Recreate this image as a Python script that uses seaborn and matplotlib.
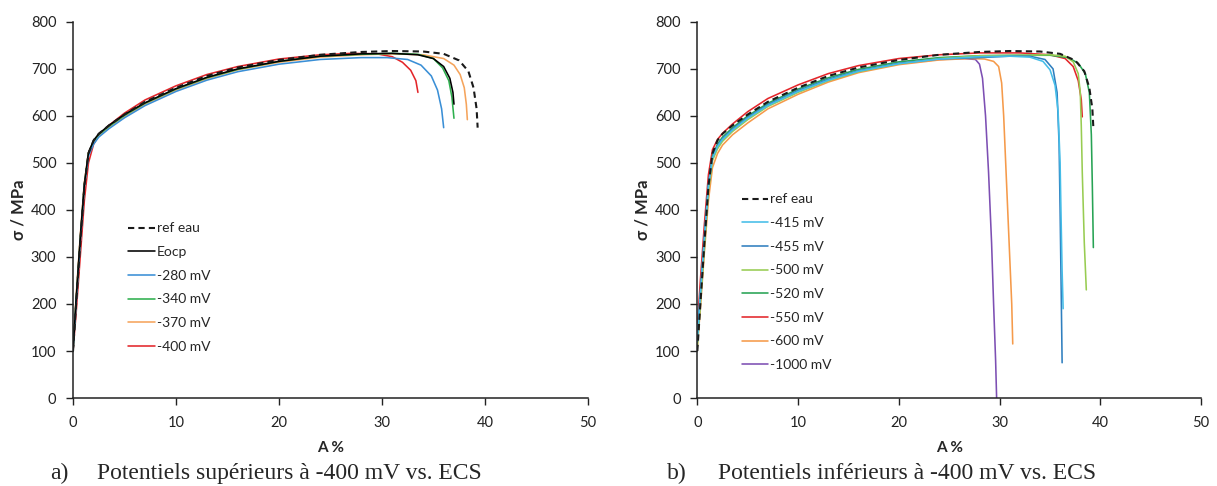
import matplotlib
matplotlib.use("Agg")
import matplotlib.pyplot as plt
import seaborn as sns
import pandas as pd

# strain (A %) / stress (MPa) points
early_x = [0, 0.3, 0.7, 1.1, 1.5, 2.0, 2.5, 3.5, 5, 7, 10, 13, 16, 20, 24]

ref_x = early_x + [28, 31, 34, 36, 37.5, 38.4, 38.9, 39.2, 39.3]
ref_y = [100, 200, 330, 450, 520, 548, 562, 580, 603, 630, 660, 685, 703, 719, 730,
         736, 738, 737, 732, 718, 695, 660, 615, 575]

eocp_x = early_x + [28, 31, 33.5, 35, 36, 36.6, 36.9, 37.0]
eocp_y = [100, 210, 340, 455, 522, 548, 562, 580, 603, 628, 658, 682, 700, 716, 727,
          732, 733, 730, 722, 705, 680, 650, 625]

m280_x = early_x + [28, 30.5, 32.5, 33.8, 34.8, 35.4, 35.8, 36.0]
m280_y = [100, 200, 330, 450, 515, 540, 555, 573, 596, 622, 652, 676, 694, 710, 720,
          724, 724, 720, 708, 685, 655, 615, 575]

m340_x = early_x + [28, 31, 33.5, 35, 35.9, 36.5, 36.8, 37.0]
m340_y = [100, 205, 335, 452, 520, 546, 560, 578, 601, 627, 657, 681, 699, 716, 727,
          731, 733, 731, 722, 702, 675, 640, 595]

m370_x = early_x + [28, 31, 34, 36, 37, 37.6, 38.0, 38.2, 38.3]
m370_y = [100, 215, 345, 458, 522, 545, 558, 576, 599, 625, 655, 679, 698, 714, 725,
          730, 732, 730, 722, 708, 688, 660, 625, 592]

m400_x = early_x + [27, 29.5, 31, 32, 32.8, 33.3, 33.5]
m400_y = [100, 180, 300, 420, 500, 540, 558, 580, 606, 634, 664, 688, 705, 721, 730,
          733, 732, 726, 714, 697, 675, 650]

m415_x = early_x + [28, 31, 33, 34.3, 35.0, 35.5, 35.8, 36.0, 36.1, 36.2, 36.3]
m415_y = [120, 220, 340, 450, 510, 535, 550, 570, 595, 622, 652, 676, 695, 711, 721,
          726, 727, 725, 716, 698, 665, 610, 500, 380, 270, 190]

m455_x = early_x + [28, 31, 33, 34.5, 35.3, 35.7, 35.9, 36.0, 36.1, 36.2]
m455_y = [130, 225, 345, 455, 512, 537, 552, 572, 597, 624, 654, 678, 696, 712, 721,
          724, 727, 727, 720, 700, 650, 540, 400, 240, 75]

m500_x = early_x + [28, 32, 35, 36.5, 37.3, 37.8, 38.0, 38.1, 38.2, 38.4, 38.6]
m500_y = [110, 200, 320, 440, 505, 530, 546, 567, 592, 620, 650, 675, 694, 711, 722,
          728, 729, 730, 727, 715, 690, 650, 580, 480, 330, 230]

m520_x = early_x + [28, 32, 35, 36.8, 37.8, 38.5, 38.9, 39.1, 39.2, 39.3]
m520_y = [120, 215, 335, 450, 515, 540, 555, 575, 600, 627, 657, 681, 699, 715, 724,
          728, 729, 729, 724, 712, 690, 650, 560, 450, 320]

m550_x = early_x + [28, 32, 35, 36.5, 37.3, 37.8, 38.1, 38.2]
m550_y = [150, 250, 370, 475, 528, 550, 563, 583, 609, 637, 666, 690, 707, 722, 730,
          734, 734, 730, 722, 705, 675, 635, 598]

m600_x = early_x + [27, 28.5, 29.4, 29.9, 30.2, 30.4, 30.6, 30.8, 31.0, 31.2, 31.3]
m600_y = [110, 190, 310, 420, 490, 520, 538, 560, 585, 615, 646, 672, 692, 709, 719,
          722, 721, 716, 705, 670, 600, 500, 400, 300, 200, 115]

m1000_x = early_x + [26.5, 27.6, 28.0, 28.3, 28.6, 28.9, 29.2, 29.4, 29.6, 29.7]
m1000_y = [140, 230, 350, 460, 515, 535, 550, 570, 595, 622, 652, 676, 695, 711, 720,
           722, 720, 710, 680, 600, 480, 330, 200, 80, 0]

DASH = (0, (3, 2))
left_curves = [
    ("ref eau", ref_x, ref_y, "#1a1a1a", DASH),
    ("Eocp", eocp_x, eocp_y, "#000000", "-"),
    ("-280 mV", m280_x, m280_y, "#3a8fd6", "-"),
    ("-340 mV", m340_x, m340_y, "#2eb04e", "-"),
    ("-370 mV", m370_x, m370_y, "#f5a45c", "-"),
    ("-400 mV", m400_x, m400_y, "#e3262a", "-"),
]
right_curves = [
    ("ref eau", ref_x, ref_y, "#1a1a1a", DASH),
    ("-415 mV", m415_x, m415_y, "#45bde8", "-"),
    ("-455 mV", m455_x, m455_y, "#2f7fbf", "-"),
    ("-500 mV", m500_x, m500_y, "#98cc52", "-"),
    ("-520 mV", m520_x, m520_y, "#27a354", "-"),
    ("-550 mV", m550_x, m550_y, "#e3262a", "-"),
    ("-600 mV", m600_x, m600_y, "#f59a4a", "-"),
    ("-1000 mV", m1000_x, m1000_y, "#7d4fb3", "-"),
]

sns.set_style("white")
plt.rcParams["font.family"] = ["Lato", "DejaVu Sans"]

fig = plt.figure(figsize=(12.17, 4.86), dpi=100)
ax_a = fig.add_axes([0.060, 0.181, 0.423, 0.774])
ax_b = fig.add_axes([0.573, 0.181, 0.414, 0.774])


def draw(ax, curves, legend_anchor):
    # draw in reverse so the reference curve sits on top
    for label, xs, ys, color, ls in reversed(curves):
        d = pd.DataFrame({"x": xs, "y": ys})
        lw = 1.5 if ls == DASH else 1.15
        sns.lineplot(data=d, x="x", y="y", ax=ax, sort=False, estimator=None,
                     color=color, linestyle=ls, linewidth=lw, legend=False)
    handles = [plt.Line2D([], [], color=c, linestyle=ls,
                          linewidth=1.5 if ls == DASH else 1.15)
               for _, _, _, c, ls in curves]
    ax.legend(handles, [c[0] for c in curves], loc="upper left",
              bbox_to_anchor=legend_anchor, frameon=False, fontsize=10,
              handlelength=1.9, handletextpad=0.15, labelspacing=0.84)
    ax.set_xlim(0, 50)
    ax.set_ylim(0, 800)
    ax.set_xticks(range(0, 51, 10))
    ax.set_yticks(range(0, 801, 100))
    ax.tick_params(labelsize=10.5, length=5, width=1, direction="out",
                   bottom=True, left=True, colors="#222222")
    ax.tick_params(axis="x", pad=8)
    ax.tick_params(axis="y", pad=7)
    for s in ["top", "right"]:
        ax.spines[s].set_visible(False)
    for s in ["left", "bottom"]:
        ax.spines[s].set_color("#222222")
        ax.spines[s].set_linewidth(1.1)
    ax.set_xlabel("A %", fontsize=11, fontweight="bold", labelpad=8)
    ax.set_ylabel("σ / MPa", fontsize=12, fontweight="bold", labelpad=3)


draw(ax_a, left_curves, (0.083, 0.50))
draw(ax_b, right_curves, (0.063, 0.577))

cap_font = dict(family="Liberation Serif", fontsize=17, va="center")
fig.text(0.041, 0.025, "a)", **cap_font)
fig.text(0.080, 0.025, "Potentiels supérieurs à -400 mV vs. ECS", **cap_font)
fig.text(0.548, 0.025, "b)", **cap_font)
fig.text(0.590, 0.025, "Potentiels inférieurs à -400 mV vs. ECS", **cap_font)

fig.savefig("out.png", dpi=100)
